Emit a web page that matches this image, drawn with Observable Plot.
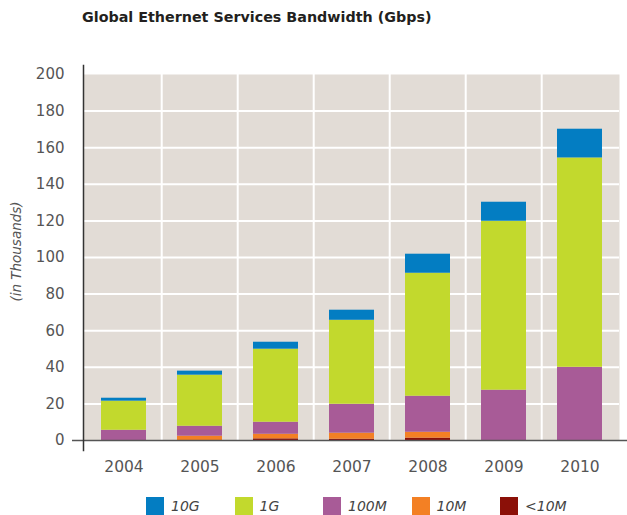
<!DOCTYPE html>
<html>
<head>
<meta charset="utf-8">
<script src="https://cdn.jsdelivr.net/npm/d3@7"></script>
<script src="https://cdn.jsdelivr.net/npm/@observablehq/plot@0.6"></script>
<style>
  html, body { margin: 0; padding: 0; background: #fff; }
  #wrap { position: relative; width: 627px; height: 515px; overflow: hidden; }
  #title { position: absolute; left: 82px; top: 9px; font: bold 14.3px "DejaVu Sans", Arial, sans-serif; color: #231f20; white-space: nowrap; }
  #chart { position: absolute; left: 0; top: 44px; }
  #legend { position: absolute; left: 146px; top: 497px; display: flex; font: italic 14px "DejaVu Sans", sans-serif; color: #444; }
  .item { width: 88.5px; display: flex; align-items: center; height: 18px; }
  .sw { width: 18px; height: 18px; margin-right: 7px; flex: none; }
</style>
</head>
<body>
<div id="wrap">
  <div id="title">Global Ethernet Services Bandwidth (Gbps)</div>
  <div id="chart"></div>
  <div id="legend"></div>
</div>
<script>
// Data (thousands of Gbps)
const years = ["2004", "2005", "2006", "2007", "2008", "2009", "2010"];
const seriesStack = ["<10M", "10M", "100M", "1G", "10G"];     // bottom to top
const legendOrder = ["10G", "1G", "100M", "10M", "<10M"];
const seriesColors = ["#8b1008", "#f38024", "#a85b97", "#c2d92d", "#037dc2"];
const lt10M = [0, 0, 0.9, 0.7, 1.3, 0, 0];
const m10   = [0, 2.35, 2.5, 3.3, 3.2, 0, 0];
const m100  = [5.6, 5.45, 6.6, 15.8, 19.7, 27.5, 40];
const g1    = [15.9, 27.9, 39.9, 45.9, 67.2, 92.3, 114.4];
const g10   = [1.6, 2.2, 3.8, 5.5, 10.4, 10.4, 15.7];
const yTicks = [0, 20, 40, 60, 80, 100, 120, 140, 160, 180, 200];
const yLabel = "(in Thousands)";

const valuesBySeries = { "<10M": lt10M, "10M": m10, "100M": m100, "1G": g1, "10G": g10 };
const data = [];
for (const s of seriesStack) years.forEach((y, i) => data.push({ year: y, series: s, value: valuesBySeries[s][i] }));

const W = 627, H = 436, ml = 83, mr = 8, mt = 30, mb = 40;
const step = (W - ml - mr) / years.length;

const chart = Plot.plot({
  width: W, height: H,
  marginLeft: ml, marginRight: mr, marginTop: mt, marginBottom: mb,
  style: { fontFamily: "DejaVu Sans, sans-serif", fontSize: "15px", color: "#555", background: "transparent", overflow: "visible" },
  x: { domain: years, paddingInner: 0.41, paddingOuter: 0.205, label: null },
  y: { domain: [0, 200], label: null },
  color: { domain: seriesStack, range: seriesColors },
  marks: [
    Plot.frame({ fill: "#e2dcd6", stroke: null }),
    Plot.gridY(yTicks.filter(d => d > 0 && d < 200), { stroke: "#fff", strokeOpacity: 1, strokeWidth: 2 }),
    Plot.ruleX(years.slice(1), { stroke: "#fff", strokeWidth: 2, dx: -step / 2 }),
    Plot.barY(data, { x: "year", y: "value", fill: "series", order: seriesStack }),
    Plot.ruleY([0], { stroke: "#555", strokeWidth: 1.5, insetLeft: -11, insetRight: -8 }),
    Plot.frame({ anchor: "left", stroke: "#333", strokeWidth: 1.5, insetTop: -9, insetBottom: -10 }),
    Plot.axisY({ ticks: yTicks, tickSize: 0, tickPadding: 19, label: null, fontSize: 15 }),
    Plot.axisX({ tickSize: 0, tickPadding: 20, label: null, fontSize: 15.5 }),
    Plot.text([yLabel], { frameAnchor: "left", dx: -67, dy: -6, rotate: -90, textAnchor: "middle", fontStyle: "italic", fontSize: 13.5, fill: "#555", text: d => d })
  ]
});
document.getElementById("chart").append(chart);

const legend = document.getElementById("legend");
for (const s of legendOrder) {
  const it = document.createElement("div");
  it.className = "item";
  const sw = document.createElement("span");
  sw.className = "sw";
  sw.style.background = seriesColors[seriesStack.indexOf(s)];
  const lb = document.createElement("span");
  lb.textContent = s;
  it.append(sw, lb);
  legend.append(it);
}
</script>
</body>
</html>
